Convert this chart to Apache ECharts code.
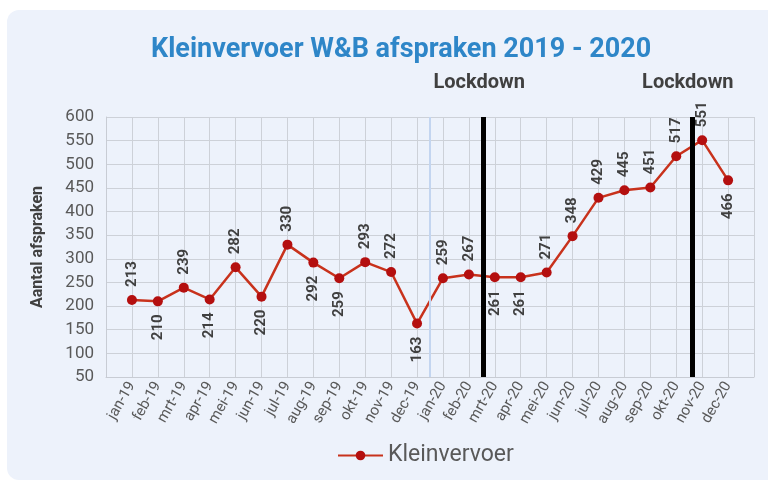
<!DOCTYPE html>
<html>
<head>
    <meta charset="utf-8">
    <title>Kleinvervoer W&amp;B afspraken</title>
    <script src="https://cdn.jsdelivr.net/npm/echarts@6/dist/echarts.min.js"></script>
    <style>
        html, body { margin: 0; padding: 0; background: #ffffff; }
        #chart1 { width: 768px; height: 482px; }
    </style>
</head>
<body>
<div id="chart1"></div>
<script type="text/javascript">
    // maanden en aantallen
    var months = ['jan-19', 'feb-19', 'mrt-19', 'apr-19', 'mei-19', 'jun-19', 'jul-19', 'aug-19', 'sep-19', 'okt-19', 'nov-19', 'dec-19',
        'jan-20', 'feb-20', 'mrt-20', 'apr-20', 'mei-20', 'jun-20', 'jul-20', 'aug-20', 'sep-20', 'okt-20', 'nov-20', 'dec-20'];
    var afspraken = [213, 210, 239, 214, 282, 220, 330, 292, 259, 293, 272, 163,
        259, 267, 261, 261, 271, 348, 429, 445, 451, 517, 551, 466];
    var yTicks = [50, 100, 150, 200, 250, 300, 350, 400, 450, 500, 550, 600];
    // labels onder de punt
    var belowIdx = [1, 3, 5, 7, 8, 11, 14, 15, 23];
    // verticale lijnen (maand-positie, 1 = jan-19)
    var yearSplit = 12.5;
    var lockdowns = [14.55, 22.6];

    var myChart1 = echarts.init(document.getElementById('chart1'));

    var seriesData = afspraken.map(function (v, i) {
        var below = belowIdx.indexOf(i) >= 0;
        return {
            value: [i + 1, v],
            label: {
                position: below ? 'bottom' : 'top',
                align: below ? 'right' : 'left'
            }
        };
    });

    var markData = [{
        xAxis: yearSplit,
        lineStyle: {color: '#c3d5f0', width: 2, type: 'solid'},
        label: {show: false}
    }];
    lockdowns.forEach(function (x) {
        markData.push({
            xAxis: x,
            lineStyle: {color: '#000000', width: 5, type: 'solid'},
            label: {
                show: true, position: 'end', formatter: 'Lockdown', distance: 24, offset: [-4, 0],
                fontSize: 20, fontWeight: 'bold', color: '#404040', fontFamily: 'Roboto'
            }
        });
    });

    myChart1.setOption({
        backgroundColor: '#ffffff',
        textStyle: {fontFamily: 'Roboto'},
        graphic: [{
            type: 'rect', z: -10, silent: true,
            shape: {x: 7, y: 10, width: 775, height: 470, r: 12},
            style: {fill: '#edf2fb'}
        }],
        title: {
            text: 'Kleinvervoer W&B afspraken 2019 - 2020',
            left: 146, top: 32,
            textStyle: {fontSize: 27, fontWeight: 'bold', color: '#2e86c8', fontFamily: 'Roboto'}
        },
        legend: {
            data: ['Kleinvervoer'],
            left: 332, top: 439,
            itemWidth: 45, itemHeight: 12, itemGap: 10,
            textStyle: {fontSize: 23, color: '#595959', fontFamily: 'Roboto'}
        },
        grid: {left: 106, right: 14, top: 117, bottom: 105},
        xAxis: {
            type: 'value', min: 0, max: months.length + 1, interval: 1,
            axisLine: {lineStyle: {color: '#c8ccd4'}},
            axisTick: {show: false},
            splitLine: {show: true, lineStyle: {color: '#cdd1d8'}},
            axisLabel: {
                rotate: 60, fontSize: 15, color: '#595959', margin: 6,
                formatter: function (v) { return months[v - 1] || ''; }
            }
        },
        yAxis: {
            type: 'value', min: yTicks[0], max: yTicks[yTicks.length - 1], interval: 50,
            name: 'Aantal afspraken', nameLocation: 'middle', nameRotate: 90, nameGap: 60,
            nameTextStyle: {fontSize: 16, fontWeight: 'bold', color: '#404040'},
            axisLine: {show: true, lineStyle: {color: '#c8ccd4'}},
            axisTick: {show: false},
            splitLine: {lineStyle: {color: '#cdd1d8'}},
            axisLabel: {fontSize: 17, color: '#595959', margin: 12}
        },
        series: [{
            name: 'Kleinvervoer',
            type: 'line',
            data: seriesData,
            symbol: 'circle', symbolSize: 10,
            lineStyle: {color: '#c8321c', width: 2.5},
            itemStyle: {color: '#b40f0f'},
            label: {
                show: true, rotate: 90, distance: 8, verticalAlign: 'middle',
                fontSize: 15, fontWeight: 'bold', color: '#404040',
                formatter: function (p) { return p.value[1]; }
            },
            markLine: {
                silent: true, symbol: ['none', 'none'],
                data: markData
            }
        }]
    });
</script>
</body>
</html>
